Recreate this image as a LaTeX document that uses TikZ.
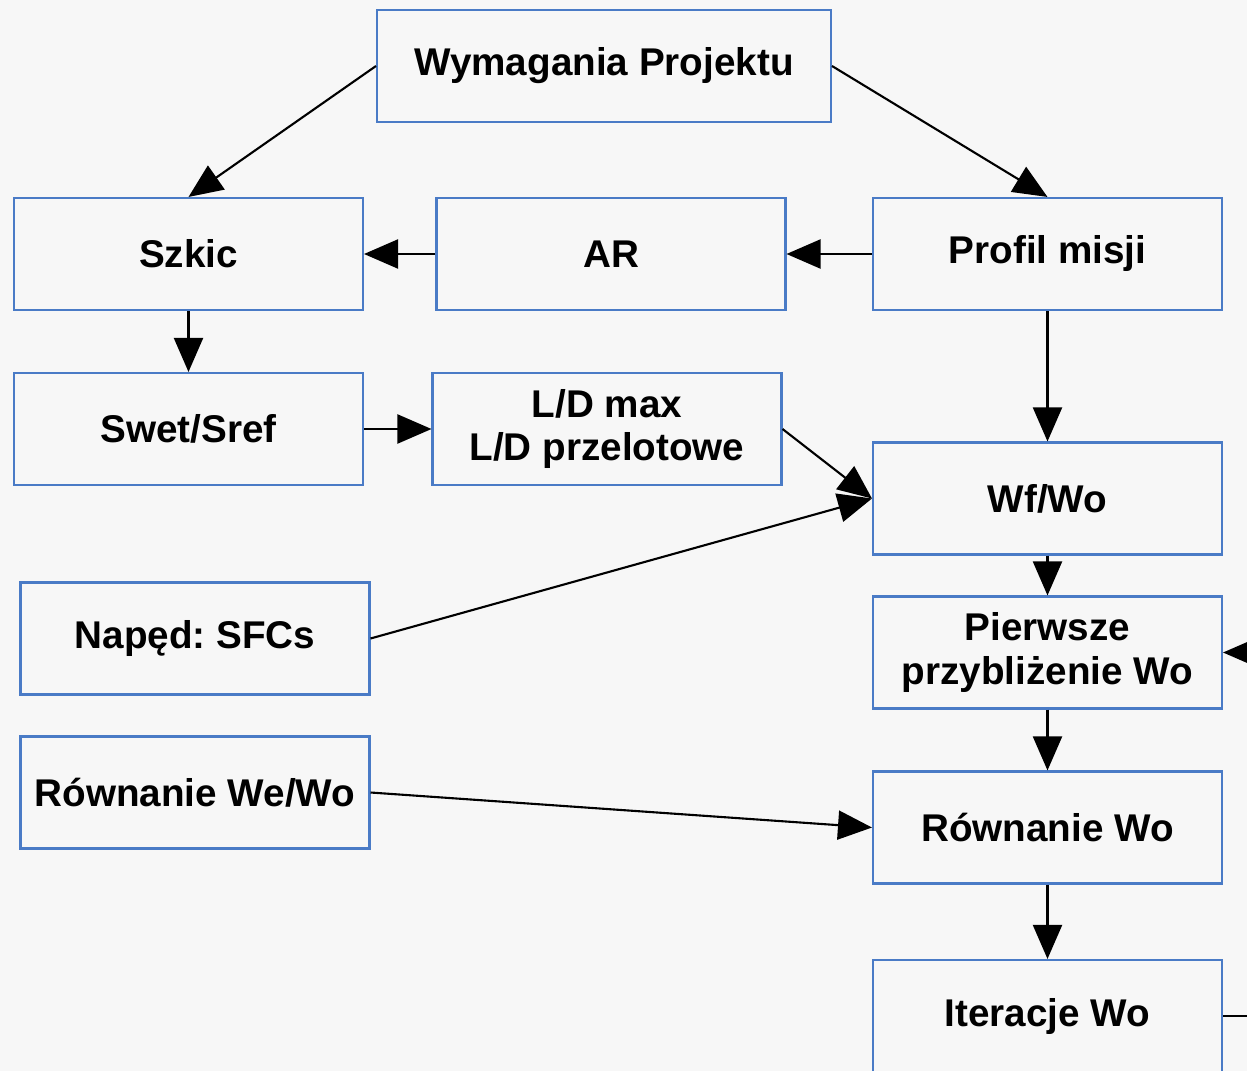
\documentclass[tikz,border=0pt]{standalone}
\usepackage{fontspec}
\setmainfont{Liberation Sans}
\usetikzlibrary{arrows.meta}
\definecolor{boxblue}{HTML}{4A7BC6}
\definecolor{bggray}{HTML}{F7F7F7}
\tikzset{
  box/.style={draw=boxblue, line width=1.2pt, fill=bggray, minimum width=6.98cm,
    minimum height=2.24cm, align=center, inner sep=2pt,
    font=\fontsize{22}{25}\selectfont\bfseries\frenchspacing},
  arr/.style={-{Triangle[length=0.68cm,width=0.58cm]}, line width=1.2pt}
}
\begin{document}
\begin{tikzpicture}[x=0.02cm, y=-0.02cm]
\fill[bggray] (0,0) rectangle (1247,1071);
\useasboundingbox (0,0) rectangle (1247,1071);

\node[box, minimum width=9.08cm] (wym) at (604,66) {Wymagania Projektu};

\node[box] (szkic) at (188.5,254) {Szkic};
\node[box] (ar) at (611,254) {AR};
\node[box] (profil) at (1047.5,254) {Profil misji};

\node[box] (swet) at (188.5,429) {Swet/Sref};
\node[box] (ld) at (607,429) {L/D max\\L/D przelotowe};
\node[box] (wfwo) at (1047.5,498.5) {Wf/Wo};

\node[box] (naped) at (195,638.5) {Napęd: SFCs};
\node[box] (pierwsze) at (1047.5,652.5) {Pierwsze\\przybliżenie Wo};

\node[box] (rowwe) at (195,792.5) {Równanie We/Wo};
\node[box] (rowwo) at (1047.5,827.5) {Równanie Wo};

\node[box] (iter) at (1047.5,1016) {Iteracje Wo};

\coordinate (loop) at (1290,1016);

\draw[arr] (wym.west) -- (szkic.north);
\draw[arr] (wym.east) -- (profil.north);
\draw[arr] (profil.west) -- (ar.east);
\draw[arr] (ar.west) -- (szkic.east);
\draw[arr] (szkic.south) -- (swet.north);
\draw[arr] (swet.east) -- (ld.west);
\draw[arr] (ld.east) -- (wfwo.west);
\draw[arr] (naped.east) -- (wfwo.west);
\draw[arr] (profil.south) -- (wfwo.north);
\draw[arr] (wfwo.south) -- (pierwsze.north);
\draw[arr] (pierwsze.south) -- (rowwo.north);
\draw[arr] (rowwe.east) -- (rowwo.west);
\draw[arr] (rowwo.south) -- (iter.north);
\draw[arr] (iter.east) -- (loop) |- (pierwsze.east);
\end{tikzpicture}
\end{document}
